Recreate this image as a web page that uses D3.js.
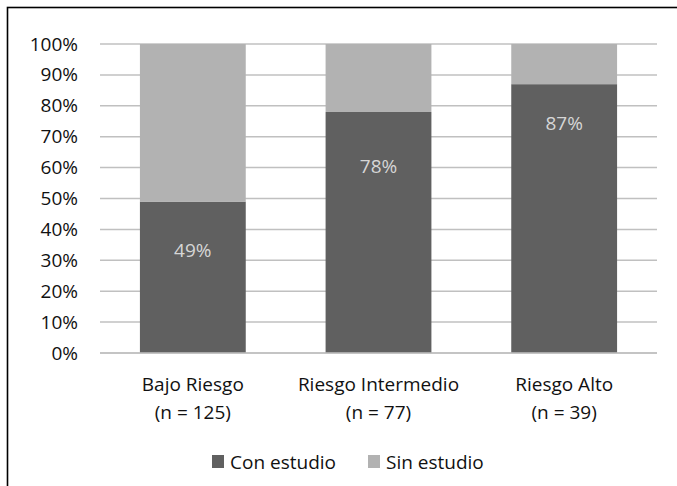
<!DOCTYPE html>
<html>
<head>
<meta charset="utf-8">
<script src="https://cdn.jsdelivr.net/npm/d3@7"></script>
<style>
  html, body { margin: 0; padding: 0; background: #fff; }
  svg { display: block; }
  text { font-family: "Open Sans", sans-serif; }
</style>
</head>
<body>
<script>
const categories = ["Bajo Riesgo", "Riesgo Intermedio", "Riesgo Alto"];
const sampleLabels = ["(n = 125)", "(n = 77)", "(n = 39)"];
const conEstudio = [0.49, 0.78, 0.87];
const sinEstudio = [0.51, 0.22, 0.13];
const dataLabels = ["49%", "78%", "87%"];
const labelPos = [0.333, 0.605, 0.744];
const seriesNames = ["Con estudio", "Sin estudio"];
const yTicks = [0, 0.1, 0.2, 0.3, 0.4, 0.5, 0.6, 0.7, 0.8, 0.9, 1.0];

const W = 677, H = 486;
const FS = 19;
const colors = { "Con estudio": "#606060", "Sin estudio": "#b2b2b2" };

const svg = d3.select("body").append("svg").attr("width", W).attr("height", H);

// outer border
svg.append("rect").attr("x", 7.5).attr("y", 7.5).attr("width", W + 10).attr("height", H + 10)
  .attr("fill", "none").attr("stroke", "#000").attr("stroke-width", 1.6);

const x = d3.scaleBand().domain(categories).range([100, 657]).paddingInner(0.43).paddingOuter(0.215);
const y = d3.scaleLinear().domain([0, 1]).range([353, 44]);

// gridlines
svg.append("g").selectAll("line").data(yTicks).join("line")
  .attr("x1", 100).attr("x2", 657)
  .attr("y1", d => y(d)).attr("y2", d => y(d))
  .attr("stroke", "#c0c0c0").attr("stroke-width", 1.5);

// y axis labels
const yAxis = d3.axisLeft(y).tickValues(yTicks).tickFormat(d3.format(".0%")).tickSize(0).tickPadding(0);
const ya = svg.append("g").attr("transform", "translate(78,0)").call(yAxis);
ya.select(".domain").remove();
ya.selectAll("text").attr("font-size", FS).attr("fill", "#111").attr("font-family", "'Open Sans', sans-serif");

// stacked data
const rows = categories.map((c, i) => ({ cat: c, "Con estudio": conEstudio[i], "Sin estudio": sinEstudio[i] }));
const stack = d3.stack().keys(seriesNames)(rows);

svg.append("g").selectAll("g").data(stack).join("g")
  .attr("fill", d => colors[d.key])
  .selectAll("rect").data(d => d).join("rect")
  .attr("x", d => x(d.data.cat))
  .attr("width", x.bandwidth())
  .attr("y", d => y(Math.min(1, d[1])))
  .attr("height", d => y(d[0]) - y(Math.min(1, d[1])));

// redraw baseline over bars
svg.append("line").attr("x1", 100).attr("x2", 657).attr("y1", y(0)).attr("y2", y(0))
  .attr("stroke", "#c0c0c0").attr("stroke-width", 1.5);

// data labels
svg.append("g").selectAll("text").data(categories).join("text")
  .attr("x", d => x(d) + x.bandwidth() / 2)
  .attr("y", (d, i) => y(labelPos[i]))
  .attr("dy", "0.35em")
  .attr("text-anchor", "middle")
  .attr("font-size", FS)
  .attr("fill", "#d6d6d6")
  .text((d, i) => dataLabels[i]);

// x labels
const xl = svg.append("g").selectAll("text").data(categories).join("text")
  .attr("text-anchor", "middle")
  .attr("font-size", FS)
  .attr("fill", "#111");
xl.append("tspan").attr("x", d => x(d) + x.bandwidth() / 2).attr("y", 391).text(d => d);
xl.append("tspan").attr("x", d => x(d) + x.bandwidth() / 2).attr("y", 419).text((d, i) => sampleLabels[i]);

// legend
const legendX = [212, 368];
const lg = svg.append("g").selectAll("g").data(seriesNames).join("g")
  .attr("transform", (d, i) => `translate(${legendX[i]},455)`);
lg.append("rect").attr("width", 12).attr("height", 13).attr("fill", d => colors[d]);
lg.append("text").attr("x", 18).attr("y", 14).attr("font-size", FS).attr("fill", "#111").text(d => d);
</script>
</body>
</html>
